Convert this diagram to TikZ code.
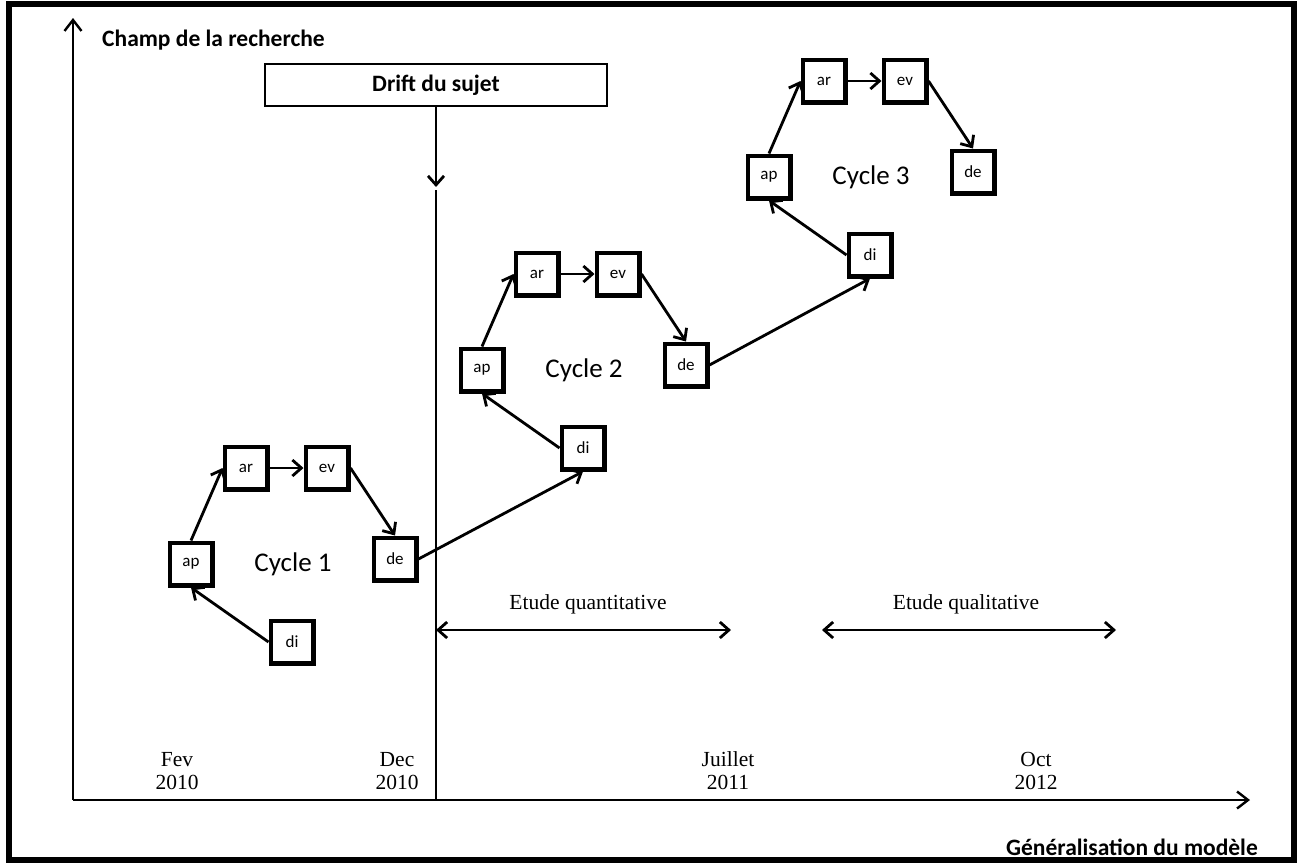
\documentclass[tikz,border=0pt]{standalone}
\usepackage{fontspec}
\setmainfont{Liberation Serif}
\newfontfamily\calibri{Carlito}
\usepackage{tikz}
\usetikzlibrary{arrows.meta,positioning,shapes}

\begin{document}
\begin{tikzpicture}[x=1pt,y=-1pt,
  stepbox/.style={draw,line width=4.5pt,minimum size=42.5pt,inner sep=0pt,
    font=\calibri\fontsize{17}{19}\selectfont},
  driftbox/.style={draw,line width=1.8pt,minimum width=342pt,minimum height=42pt,
    inner sep=0pt,font=\calibri\bfseries\fontsize{23.5}{28}\selectfont},
  flow/.style={line width=2.8pt,-{Straight Barb[length=9pt,width=16pt]}},
  twoway/.style={line width=2.8pt,
    {Straight Barb[length=9pt,width=16pt]}-{Straight Barb[length=9pt,width=16pt]}},
  axis/.style={line width=2.4pt,-{Straight Barb[length=11pt,width=17pt]}},
  boldlabel/.style={inner sep=0pt,font=\calibri\bfseries\fontsize{23.5}{28}\selectfont},
  cyclelabel/.style={font=\calibri\fontsize{27}{32}\selectfont},
  datelabel/.style={align=center,inner sep=0pt,font=\fontsize{21.5}{23}\selectfont},
  studylabel/.style={inner sep=0pt,font=\fontsize{21.5}{24}\selectfont}]

  \useasboundingbox (0,0) rectangle (1298,863);
  \draw[line width=6pt] (8.5,3.5) rectangle (1294,860);

  % Axes
  \coordinate (origin) at (73,800);
  \coordinate (ytop) at (73,18);
  \coordinate (xend) at (1250,800);
  \draw[axis] (origin) -- (ytop);
  \draw[axis] (origin) -- (xend);
  \node[boldlabel,anchor=base west] (champ) at (102,46) {Champ de la recherche};
  \node[boldlabel,anchor=base east] (gen) at (1258,855) {Généralisation du modèle};

  % Drift du sujet
  \node[driftbox] (drift) at (436,85) {Drift du sujet};
  \coordinate (drifttip) at (436,187);
  \coordinate (cuttop) at (436,190);
  \coordinate (cutbot) at (436,800);
  \draw[flow] (drift.south) -- (drifttip);
  \draw[line width=2.4pt] (cuttop) -- (cutbot);

  % Cycles
  \foreach \c/\x/\y in {1/191/564, 2/482/370, 3/769/177} {
    \begin{scope}[shift={(\x,\y)}]
      \node[stepbox] (ap\c) at (0,0) {ap};
      \node[stepbox] (ar\c) at (55,-96) {ar};
      \node[stepbox] (ev\c) at (136,-96) {ev};
      \node[stepbox] (de\c) at (204,-5) {de};
      \node[stepbox] (di\c) at (101,78) {di};
      \node[cyclelabel] (cyc\c) at (102,0) {Cycle \c};
    \end{scope}
    \draw[flow] (di\c.west) -- (ap\c.south);
    \draw[flow] (ap\c.north) -- (ar\c.west);
    \draw[flow] (ar\c.east) -- (ev\c.west);
    \draw[flow] (ev\c.east) -- (de\c.north);
  }
  \draw[flow] (de1.east) -- (di2.south);
  \draw[flow] (de2.east) -- (di3.south);

  % Etudes
  \coordinate (qa) at (436,630);
  \coordinate (qb) at (731,630);
  \coordinate (la) at (822,630);
  \coordinate (lb) at (1116,630);
  \draw[twoway] (qa) -- (qb);
  \draw[twoway] (la) -- (lb);
  \node[studylabel] (quanti) at (588,604) {Etude quantitative};
  \node[studylabel] (quali) at (966,604) {Etude qualitative};

  % Dates
  \node[datelabel] (fev) at (177,771) {Fev\\2010};
  \node[datelabel] (dec) at (397,771) {Dec\\2010};
  \node[datelabel] (juil) at (728,771) {Juillet\\2011};
  \node[datelabel] (oct) at (1036,771) {Oct\\2012};
\end{tikzpicture}
\end{document}
